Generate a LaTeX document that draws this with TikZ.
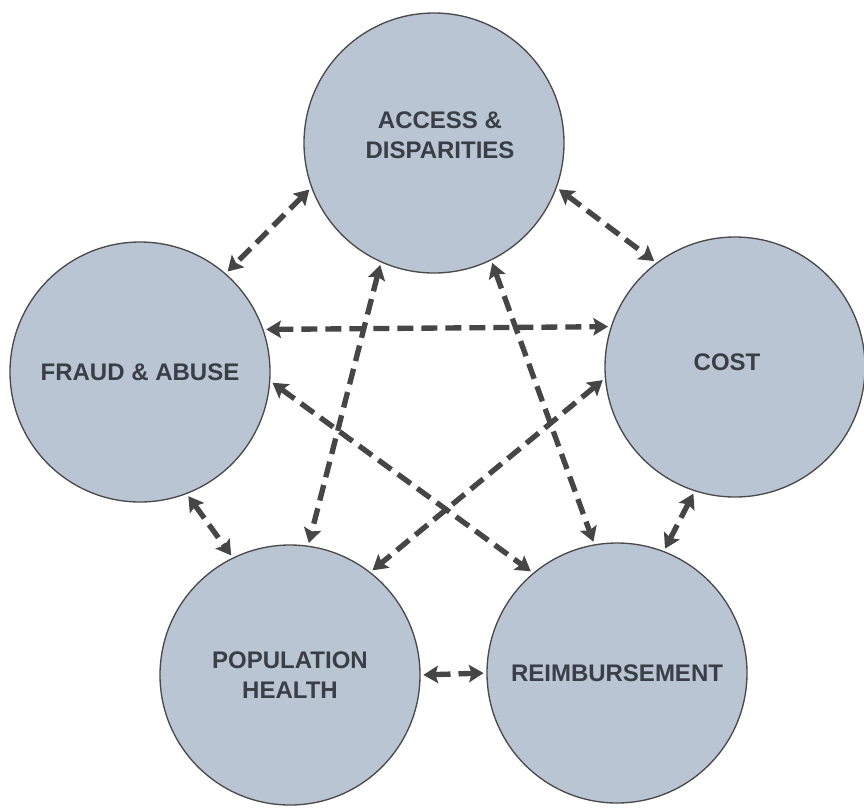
\documentclass[tikz,border=0pt]{standalone}
\usepackage{fontspec}
\setmainfont{Liberation Sans}
\usepackage{tikz}
\usetikzlibrary{arrows.meta, positioning}

\definecolor{topicfill}{HTML}{BAC5D3}
\definecolor{topicline}{HTML}{4A4A4A}
\definecolor{linkgray}{HTML}{464646}
\definecolor{textgray}{HTML}{3A3E46}

\begin{document}
\begin{tikzpicture}[
    x=0.75pt, y=-0.75pt,
    topic/.style={circle,draw=topicline,line width=1pt,fill=topicfill,
        minimum size=195pt,inner sep=0pt,align=center,text=textgray,
        font=\fontsize{18}{22.5}\selectfont\bfseries},
    link/.style={{Stealth[length=11pt,width=13pt,inset=2pt]}-{Stealth[length=11pt,width=13pt,inset=2pt]},
        draw=linkgray,line width=4pt,dash pattern=on 12pt off 6pt,shorten <=2pt,shorten >=2pt}
    ]
    \useasboundingbox (0,0) rectangle (864,808);

    % Nodes
    \node[topic] (access) at (434,143) {};
    \node[textgray,font=\fontsize{18}{22.5}\selectfont\bfseries,align=center] (accesstext) at (440,135) {ACCESS \&\\DISPARITIES};
    \node[topic] (fraud) at (140,372) {FRAUD \& ABUSE};
    \node[topic] (cost) at (735,367) {};
    \node[textgray,font=\fontsize{18}{22.5}\selectfont\bfseries] (costtext) at (727,362) {COST};
    \node[topic] (pop) at (290,675) {POPULATION\\HEALTH};
    \node[topic] (reimb) at (617,673) {REIMBURSEMENT};

    % Arrows between neighbours
    \draw[link] (access.200.5) -- (fraud.49.8);
    \draw[link] (access.340) -- (cost.127.3);
    \draw[link] (fraud.291.7) -- (pop.116.2);
    \draw[link] (cost.252.1) -- (reimb.69.1);
    \draw[link] (pop.east) -- (reimb.west);

    % Arrows across the middle
    \draw[link] (fraud.19.4) -- (cost.162.6);
    \draw[link] (access.246.6) -- (pop.82.4);
    \draw[link] (access.296) -- (reimb.100.2);
    \draw[link] (fraud.356.7) -- (reimb.130.2);
    \draw[link] (cost.185.6) -- (pop.52);
\end{tikzpicture}
\end{document}
